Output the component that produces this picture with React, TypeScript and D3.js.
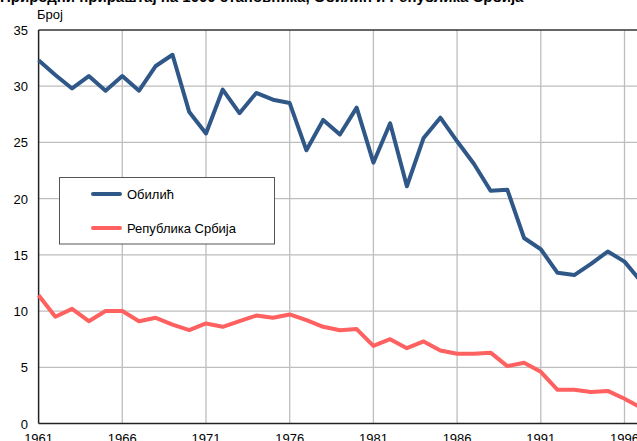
import React from "react";
import * as d3 from "d3";

const years: number[] = d3.range(1961, 1998);
const obilic: number[] = [
  32.3, 31.0, 29.8, 30.9, 29.6, 30.9, 29.6, 31.8, 32.8, 27.7,
  25.8, 29.7, 27.6, 29.4, 28.8, 28.5, 24.3, 27.0, 25.7, 28.1,
  23.2, 26.7, 21.1, 25.4, 27.2, 25.1, 23.1, 20.7, 20.8, 16.5,
  15.5, 13.4, 13.2, 14.2, 15.3, 14.4, 12.6,
];
const srbija: number[] = [
  11.4, 9.5, 10.2, 9.1, 10.0, 10.0, 9.1, 9.4, 8.8, 8.3,
  8.9, 8.6, 9.1, 9.6, 9.4, 9.7, 9.2, 8.6, 8.3, 8.4,
  6.9, 7.5, 6.7, 7.3, 6.5, 6.2, 6.2, 6.3, 5.1, 5.4,
  4.6, 3.0, 3.0, 2.8, 2.9, 2.2, 1.4,
];
const seriesNames: string[] = ["Обилић", "Република Србија"];
const seriesColors: string[] = ["#2F5888", "#FF6060"];
const yTicks: number[] = [0, 5, 10, 15, 20, 25, 30, 35];
const xTicks: number[] = [1961, 1966, 1971, 1976, 1981, 1986, 1991, 1996, 2001];
const title = "Природни прираштај на 1000 становника, Обилић и Република Србија";
const yLabel = "Број";

export default function App() {
  const W = 637, H = 441;
  const left = 38.6, top = 30, bottom = 423.5;
  const perYear = 16.74;
  const x = d3.scaleLinear().domain([1961, 1962]).range([left, left + perYear]);
  const y = d3.scaleLinear().domain([0, 35]).range([bottom, top]);
  const line = d3.line<number>().x((_, i) => x(years[i])).y((d) => y(d));
  const font = "'Liberation Sans', Arial, sans-serif";
  const data = [obilic, srbija];
  const right = W + 40;
  return (
    <svg width={W} height={H} style={{ position: "absolute", left: 0, top: 0, background: "#fff" }} fontFamily={font}>
      <rect x={0} y={0} width={W} height={H} fill="#fff" />
      <text x={0} y={2} fontSize={15} fontWeight="bold" fill="#000">{title}</text>
      <text x={37} y={19} fontSize={13} fill="#000">{yLabel}</text>
      {yTicks.map((t) => (
        <g key={"y" + t}>
          {t > 0 && t < 35 && (
            <line x1={left} x2={right} y1={y(t)} y2={y(t)} stroke="#BEBEBE" strokeWidth={1.3} />
          )}
          <text x={28} y={y(t) + 5} fontSize={13} textAnchor="end" fill="#000">{t}</text>
        </g>
      ))}
      {xTicks.map((t) => (
        <g key={"x" + t}>
          {t > 1961 && (
            <line x1={x(t)} x2={x(t)} y1={top} y2={bottom} stroke="#BEBEBE" strokeWidth={1.3} />
          )}
          <text x={x(t)} y={443} fontSize={13} textAnchor="middle" fill="#000">{t}</text>
        </g>
      ))}
      <line x1={left} x2={right} y1={top} y2={top} stroke="#333" strokeWidth={1.3} />
      <line x1={left} x2={left} y1={top} y2={bottom} stroke="#222" strokeWidth={1.5} />
      <line x1={left} x2={right} y1={bottom} y2={bottom} stroke="#222" strokeWidth={1.5} />
      {data.map((d, i) => (
        <path key={"s" + i} d={line(d) || ""} fill="none" stroke={seriesColors[i]} strokeWidth={4} strokeLinejoin="round" />
      ))}
      <rect x={59.5} y={177.5} width={215} height={66.5} fill="#fff" stroke="#555" strokeWidth={1} />
      {seriesNames.map((n, i) => (
        <g key={"l" + i}>
          <line x1={93} x2={120} y1={194 + i * 34} y2={194 + i * 34} stroke={seriesColors[i]} strokeWidth={4} strokeLinecap="round" />
          <text x={127} y={199 + i * 34} fontSize={13} fill="#000">{n}</text>
        </g>
      ))}
    </svg>
  );
}
